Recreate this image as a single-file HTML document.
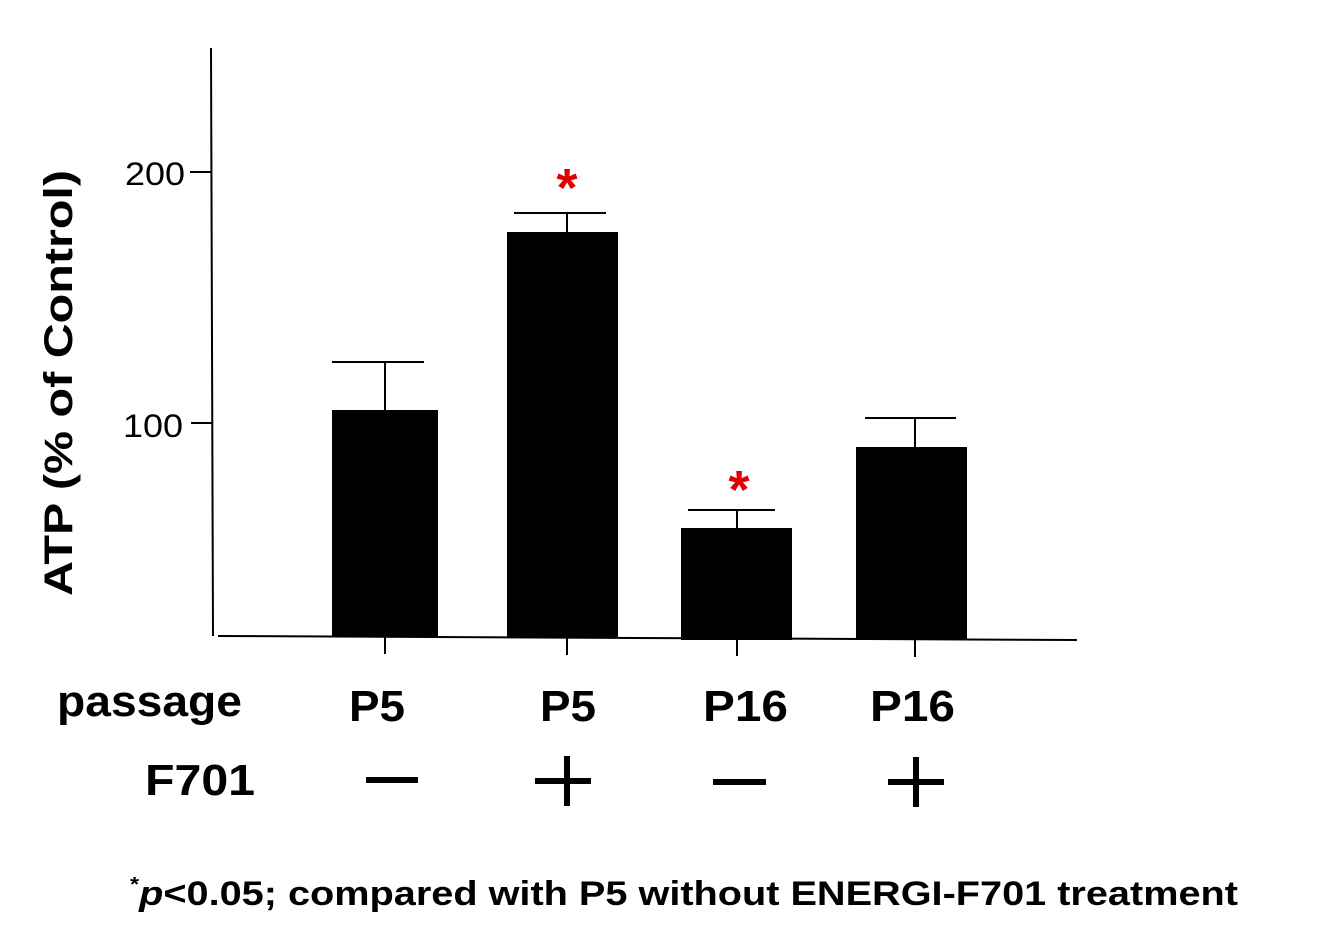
<!DOCTYPE html>
<html><head><style>html,body{margin:0;padding:0;background:#fff}svg{display:block}</style></head>
<body>
<svg width="1324" height="946" viewBox="0 0 1324 946" xmlns="http://www.w3.org/2000/svg" font-family="Liberation Sans, sans-serif">
<rect width="1324" height="946" fill="#fff"/>
<line x1="211" y1="48" x2="213" y2="636" stroke="#000" stroke-width="2"/>
<line x1="218" y1="636" x2="1077" y2="640" stroke="#000" stroke-width="2"/>
<line x1="190" y1="172" x2="211" y2="172" stroke="#000" stroke-width="2"/>
<line x1="191" y1="423" x2="212" y2="423" stroke="#000" stroke-width="2"/>
<text x="185" y="185" font-size="32" text-anchor="end" textLength="60" lengthAdjust="spacingAndGlyphs">200</text>
<text x="183" y="437" font-size="32" text-anchor="end" textLength="60" lengthAdjust="spacingAndGlyphs">100</text>
<g stroke="#000" stroke-width="2">
<line x1="385" y1="637" x2="385" y2="654"/><line x1="567" y1="638" x2="567" y2="655"/>
<line x1="737" y1="639" x2="737" y2="656"/><line x1="915" y1="640" x2="915" y2="657"/>
<line x1="385" y1="410" x2="385" y2="363"/><line x1="332" y1="362" x2="424" y2="362"/>
<line x1="567" y1="232" x2="567" y2="213"/><line x1="514" y1="213" x2="606" y2="213"/>
<line x1="737" y1="528" x2="737" y2="510"/><line x1="688" y1="510" x2="775" y2="510"/>
<line x1="915" y1="447" x2="915" y2="419"/><line x1="865" y1="418" x2="956" y2="418"/>
</g>
<rect x="332" y="410" width="106" height="227" fill="#000"/>
<rect x="507" y="232" width="111" height="406" fill="#000"/>
<rect x="681" y="528" width="111" height="112" fill="#000"/>
<rect x="856" y="447" width="111" height="193" fill="#000"/>
<text x="567" y="206" font-size="54" font-weight="bold" fill="#e00000" text-anchor="middle">*</text>
<text x="739" y="508" font-size="54" font-weight="bold" fill="#e00000" text-anchor="middle">*</text>
<text transform="translate(72,383) rotate(-90)" font-size="40" font-weight="bold" text-anchor="middle" textLength="426" lengthAdjust="spacingAndGlyphs">ATP (% of Control)</text>
<g font-size="44" font-weight="bold">
<text x="57" y="716" textLength="185" lengthAdjust="spacingAndGlyphs">passage</text>
<text x="349" y="721" textLength="56" lengthAdjust="spacingAndGlyphs">P5</text>
<text x="540" y="721" textLength="56" lengthAdjust="spacingAndGlyphs">P5</text>
<text x="703" y="721" textLength="85" lengthAdjust="spacingAndGlyphs">P16</text>
<text x="870" y="721" textLength="85" lengthAdjust="spacingAndGlyphs">P16</text>
<text x="145" y="795" textLength="110" lengthAdjust="spacingAndGlyphs">F701</text>
</g>
<g fill="#000">
<rect x="366" y="777" width="52" height="6"/>
<rect x="713" y="779" width="53" height="6"/>
<rect x="535" y="778" width="56" height="6"/><rect x="564" y="756" width="6" height="50"/>
<rect x="888" y="779" width="56" height="6"/><rect x="913" y="757" width="6" height="50"/>
</g>
<text x="130" y="905" font-size="34" font-weight="bold" textLength="1108" lengthAdjust="spacingAndGlyphs"><tspan font-size="20" dy="-14">*</tspan><tspan dy="14" font-style="italic">p</tspan>&lt;0.05; compared with P5  without ENERGI-F701 treatment</text>
</svg>
</body></html>
